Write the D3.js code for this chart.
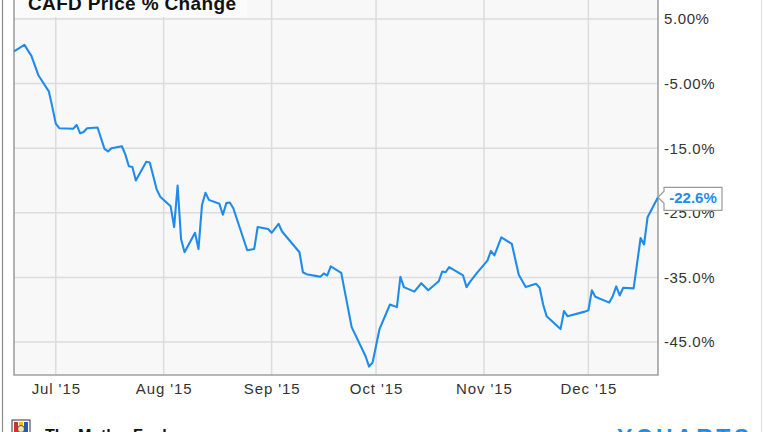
<!DOCTYPE html>
<html>
<head>
<meta charset="utf-8">
<script src="https://cdn.jsdelivr.net/npm/d3@7/dist/d3.min.js"></script>
<style>
  html, body { margin: 0; padding: 0; background: #ffffff; }
  svg { display: block; font-family: "Liberation Sans", Arial, sans-serif; }
</style>
</head>
<body>
<svg id="chart" width="764" height="432"></svg>
<script>
const title = "CAFD Price % Change";
const dates = [
  "2015-06-19","2015-06-22","2015-06-24","2015-06-26","2015-06-29","2015-06-30",
  "2015-07-01","2015-07-02","2015-07-06","2015-07-07","2015-07-08","2015-07-09","2015-07-10",
  "2015-07-13","2015-07-15","2015-07-16","2015-07-17","2015-07-20","2015-07-21","2015-07-22",
  "2015-07-23","2015-07-24","2015-07-27","2015-07-28","2015-07-30","2015-07-31",
  "2015-08-03","2015-08-04","2015-08-05","2015-08-06","2015-08-07","2015-08-10","2015-08-11",
  "2015-08-12","2015-08-13","2015-08-14","2015-08-17","2015-08-18","2015-08-19","2015-08-20",
  "2015-08-21","2015-08-25","2015-08-27","2015-08-28","2015-08-31",
  "2015-09-01","2015-09-03","2015-09-04","2015-09-09","2015-09-10","2015-09-11","2015-09-14",
  "2015-09-15","2015-09-16","2015-09-17","2015-09-18","2015-09-21","2015-09-24","2015-09-28",
  "2015-09-29","2015-09-30","2015-10-02","2015-10-05","2015-10-07","2015-10-08","2015-10-09",
  "2015-10-12","2015-10-14","2015-10-16","2015-10-19","2015-10-20","2015-10-21","2015-10-22",
  "2015-10-26","2015-10-27","2015-10-28","2015-10-30","2015-11-02","2015-11-03","2015-11-04",
  "2015-11-06","2015-11-09","2015-11-11","2015-11-13","2015-11-16","2015-11-17","2015-11-18",
  "2015-11-19","2015-11-23","2015-11-24","2015-11-25","2015-11-30","2015-12-01","2015-12-02",
  "2015-12-03","2015-12-07","2015-12-08","2015-12-09","2015-12-10","2015-12-11","2015-12-14",
  "2015-12-16","2015-12-17","2015-12-18","2015-12-21"
];
const values = [
  0.0, 1.0, -0.7, -3.7, -6.2, -8.6,
  -11.2, -11.9, -12.0, -11.4, -12.7, -12.5, -11.9,
  -11.8, -15.1, -15.5, -15.0, -14.7, -16.0, -17.8,
  -17.9, -20.0, -17.1, -17.2, -21.4, -22.5,
  -24.0, -27.2, -20.8, -29.1, -31.1, -28.1, -30.6,
  -23.8, -21.9, -23.0, -23.6, -25.3, -23.5, -23.4,
  -24.3, -30.8, -30.6, -27.2, -27.5,
  -28.1, -26.7, -27.9, -31.1, -34.2, -34.5, -34.8,
  -34.9, -34.4, -34.7, -33.3, -34.3, -42.7, -47.2,
  -48.8, -48.2, -43.0, -39.2, -39.6, -34.9, -36.5,
  -37.2, -35.9, -37.0, -35.6, -34.1, -34.2, -33.4,
  -34.7, -36.5, -35.7, -34.3, -32.4, -30.9, -31.6,
  -28.8, -29.8, -34.6, -36.5, -36.0, -36.6, -39.2,
  -41.0, -43.0, -40.2, -41.0, -40.3, -40.1, -37.0,
  -38.0, -38.9, -37.9, -36.4, -37.8, -36.6, -36.7,
  -28.9, -29.9, -25.7, -22.6
];
const yTicks = [5, -5, -15, -25, -35, -45];
const yTickLabels = ["5.00%", "-5.00%", "-15.0%", "-25.0%", "-35.0%", "-45.0%"];
const xTicks = ["2015-07-01","2015-08-01","2015-09-01","2015-10-01","2015-11-01","2015-12-01"];
const xTickLabels = ["Jul '15", "Aug '15", "Sep '15", "Oct '15", "Nov '15", "Dec '15"];
const lastLabel = "-22.6%";

const parse = d3.timeParse("%Y-%m-%d");
const data = dates.map((d, i) => ({ date: parse(d), value: values[i] }));

const svg = d3.select("#chart");
const W = 764, H = 432;
const plot = { left: 14, right: 658, top: 0, bottom: 375 };
const blue = "#1f8ceb";

const x = d3.scaleTime()
  .domain([parse("2015-06-19"), parse("2015-12-21")])
  .range([plot.left, plot.right]);
const y = d3.scaleLinear().domain([-45, 5]).range([342, 19]);

// outer frame
svg.append("line").attr("x1", 2.5).attr("x2", 2.5).attr("y1", 0).attr("y2", H)
  .attr("stroke", "#8c8c8c").attr("stroke-width", 1.2);
svg.append("line").attr("x1", 761.5).attr("x2", 761.5).attr("y1", 0).attr("y2", H)
  .attr("stroke", "#dddddd").attr("stroke-width", 1);

// plot background
svg.append("rect").attr("x", plot.left).attr("y", plot.top)
  .attr("width", plot.right - plot.left).attr("height", plot.bottom - plot.top)
  .attr("fill", "#f8f8f8");

// grid
const grid = svg.append("g").attr("stroke", "#dcdcdc").attr("stroke-width", 1.5);
yTicks.forEach(t => {
  grid.append("line").attr("x1", plot.left).attr("x2", plot.right)
    .attr("y1", y(t)).attr("y2", y(t));
});
xTicks.forEach(t => {
  grid.append("line").attr("x1", x(parse(t))).attr("x2", x(parse(t)))
    .attr("y1", plot.top).attr("y2", plot.bottom);
});

// plot border (left, right, bottom)
svg.append("path")
  .attr("d", `M${plot.left},${plot.top}V${plot.bottom}H${plot.right}V${plot.top}`)
  .attr("fill", "none").attr("stroke", "#a0a0a0").attr("stroke-width", 1.6);

// title box
svg.append("rect").attr("x", plot.left + 1).attr("y", 0).attr("width", 232).attr("height", 17)
  .attr("fill", "#fbfbfb");
svg.append("text").attr("x", 28).attr("y", 10)
  .attr("font-size", 19).attr("font-weight", "bold").attr("fill", "#111")
  .attr("letter-spacing", 0.35)
  .text(title);

// line
const line = d3.line().x(d => x(d.date)).y(d => y(d.value));
svg.append("path").datum(data).attr("d", line)
  .attr("fill", "none").attr("stroke", blue).attr("stroke-width", 2.1)
  .attr("stroke-linejoin", "round");

// y axis labels
const yAxis = d3.axisRight(y).tickValues(yTicks)
  .tickFormat((d, i) => yTickLabels[i]).tickSize(0).tickPadding(0);
const yg = svg.append("g").attr("transform", `translate(664,0)`).call(yAxis);
yg.select(".domain").remove();
yg.selectAll("text").attr("font-size", 15).attr("fill", "#333")
  .attr("letter-spacing", 0.6).attr("font-family", "Liberation Sans, Arial, sans-serif");

// x axis labels
const xAxis = d3.axisBottom(x).tickValues(xTicks.map(parse))
  .tickFormat((d, i) => xTickLabels[i]).tickSize(0).tickPadding(0);
const xg = svg.append("g").attr("transform", `translate(0,383)`).call(xAxis);
xg.select(".domain").remove();
xg.selectAll("text").attr("font-size", 15).attr("fill", "#333")
  .attr("letter-spacing", 0.9)
  .attr("font-family", "Liberation Sans, Arial, sans-serif");

// last value callout
const last = data[data.length - 1];
const lx = x(last.date), ly = y(last.value);
const bx = 664, bw = 58, bh = 23, by = ly - 10;
svg.append("path")
  .attr("d", `M${lx},${ly} L${bx},${ly - 6} V${by} H${bx + bw} V${by + bh} H${bx} V${ly + 6} Z`)
  .attr("fill", "#ffffff").attr("stroke", "#9a9a9a").attr("stroke-width", 1.2);
svg.append("text").attr("x", bx + bw / 2).attr("y", ly + 6)
  .attr("text-anchor", "middle").attr("font-size", 15).attr("font-weight", "bold")
  .attr("fill", blue).text(lastLabel);

// footer: Motley Fool logo + YCHARTS
const logo = svg.append("g").attr("transform", "translate(12,420)");
logo.append("rect").attr("x", 0).attr("y", 0).attr("width", 18).attr("height", 14)
  .attr("fill", "#fff").attr("stroke", "#333").attr("stroke-width", 1);
logo.append("rect").attr("x", 2).attr("y", 2).attr("width", 4).attr("height", 10).attr("fill", "#d32f2f");
logo.append("rect").attr("x", 7).attr("y", 2).attr("width", 4).attr("height", 10).attr("fill", "#f2c200");
logo.append("rect").attr("x", 12).attr("y", 2).attr("width", 4).attr("height", 10).attr("fill", "#1e5bbf");
logo.append("circle").attr("cx", 9).attr("cy", 9).attr("r", 3.5).attr("fill", "#f5deb3").attr("stroke", "#333").attr("stroke-width", 0.8);
svg.append("text").attr("x", 45).attr("y", 441).attr("font-size", 16).attr("font-weight", "bold")
  .attr("fill", "#111").text("The Motley Fool");
svg.append("text").attr("x", 617).attr("y", 446).attr("font-size", 23).attr("font-weight", "bold")
  .attr("letter-spacing", 3.5).attr("fill", blue).text("YCHARTS");
</script>
</body>
</html>
